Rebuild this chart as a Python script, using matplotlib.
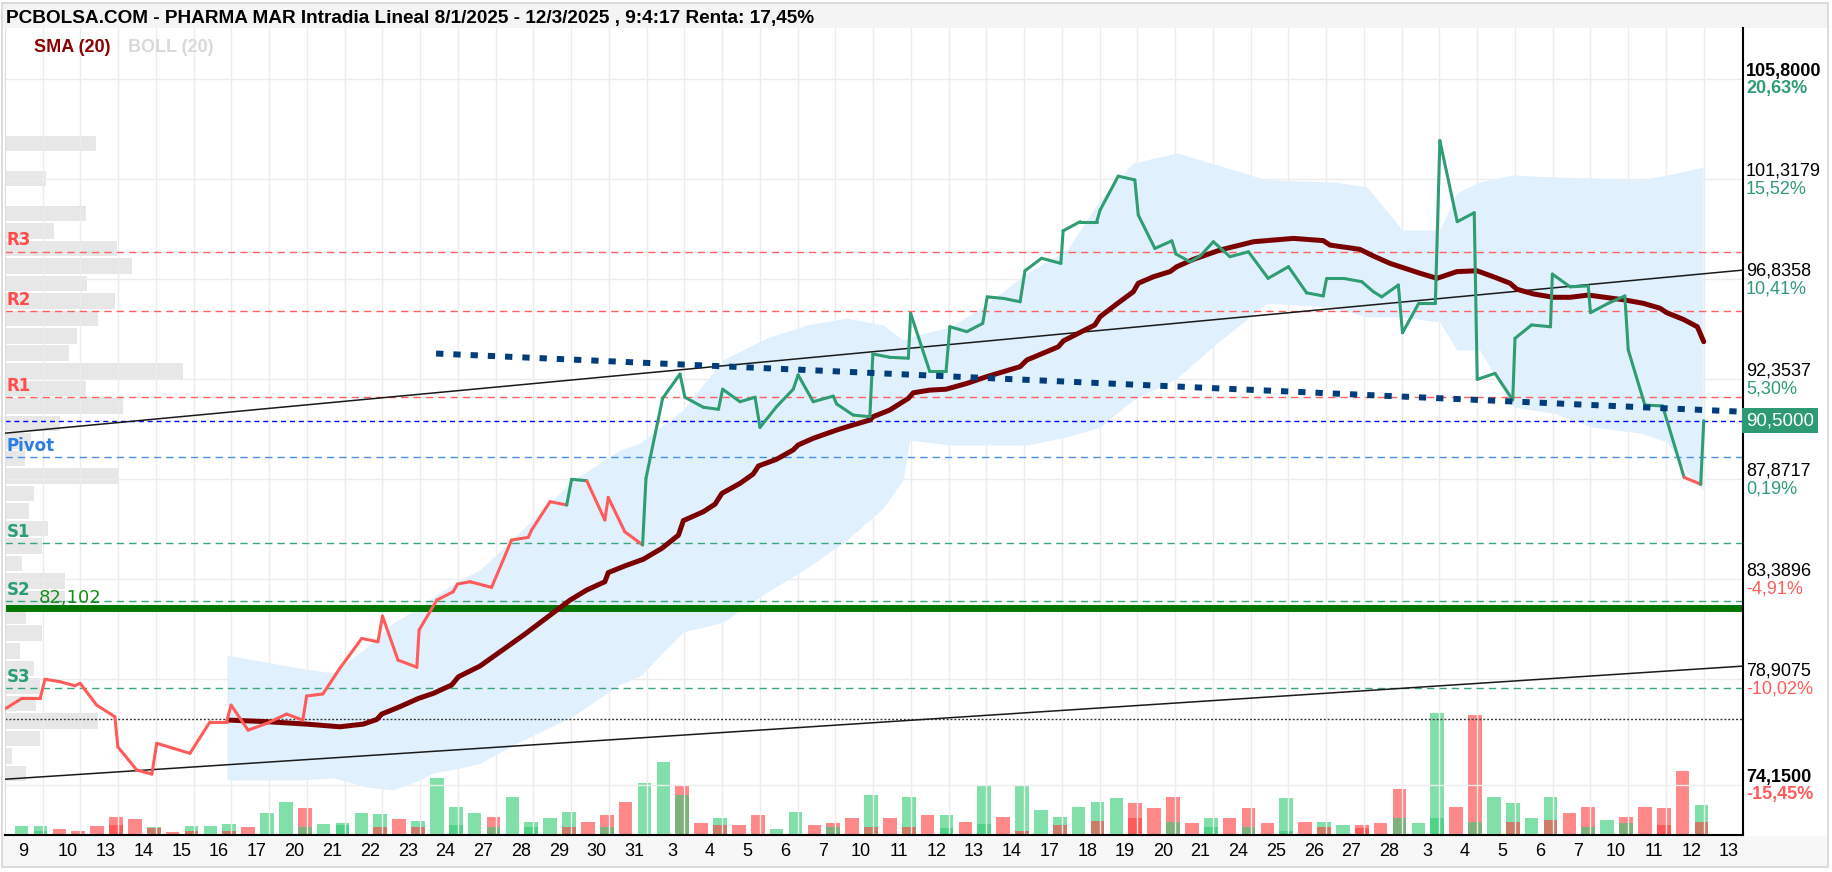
import numpy as np
import matplotlib.pyplot as plt
from matplotlib.collections import LineCollection
from matplotlib.patches import Rectangle

# Fuente tipo Arial para todo el gráfico
plt.rcParams['font.family'] = ['Liberation Sans', 'DejaVu Sans']

W, H = 1832, 872

# --- Datos ---
# Etiquetas de sesiones (enero, febrero, marzo)
dias = ['9', '10', '13', '14', '15', '16', '17', '20', '21', '22', '23', '24', '27', '28', '29', '30', '31',
        '3', '4', '5', '6', '7', '10', '11', '12', '13', '14', '17', '18', '19', '20', '21', '24', '25', '26', '27', '28',
        '3', '4', '5', '6', '7', '10', '11', '12', '13']

# Cotización intradía (x en sesiones desde el inicio)
precio_x = [0.03, 0.44, 0.93, 1.06, 1.46, 1.85, 1.99, 2.43, 2.91, 2.99,
            3.49, 3.89, 4.02, 4.45, 4.90, 5.43, 5.87, 5.99, 6.44, 6.93,
            7.46, 7.89, 7.99, 8.42, 8.87, 9.45, 9.88, 10.00, 10.41, 10.91,
            10.97, 11.44, 11.87, 11.99, 12.32, 12.89, 13.42, 13.86, 13.95, 14.44,
            14.88, 15.01, 15.41, 15.89, 15.98, 16.42, 16.89, 16.98, 17.42, 17.88,
            18.01, 18.50, 18.90, 19.01, 19.47, 19.87, 20.00, 20.44, 20.88, 21.01,
            21.41, 21.94, 22.03, 22.47, 22.91, 22.99, 23.44, 23.93, 23.99, 24.49,
            24.93, 25.03, 25.48, 25.90, 26.02, 26.45, 26.89, 27.02, 27.46, 27.97,
            28.03, 28.48, 28.92, 29.01, 29.49, 29.93, 30.02, 30.46, 30.91, 31.02,
            31.39, 31.66, 32.01, 32.45, 32.94, 33.46, 34.00, 34.48, 34.92, 35.01,
            35.45, 35.94, 36.25, 36.47, 36.91, 37.02, 37.45, 37.89, 38.01, 38.47,
            38.92, 39.00, 39.47, 39.94, 40.00, 40.44, 40.94, 40.99, 41.46, 41.94,
            42.00, 42.47, 42.91, 43.00, 43.44, 43.91, 44.48, 44.92, 45.00]
precio_y = [77.61, 78.05, 78.05, 78.91, 78.80, 78.62, 78.73, 77.75, 77.23, 75.88,
            74.84, 74.66, 76.04, 75.82, 75.59, 77.00, 77.00, 77.75, 76.63, 76.93,
            77.35, 77.08, 78.16, 78.25, 79.40, 80.74, 80.59, 81.74, 79.77, 79.45,
            81.12, 82.46, 82.83, 83.18, 83.28, 83.03, 85.15, 85.27, 85.60, 86.87,
            86.72, 87.87, 87.81, 86.05, 87.06, 85.52, 84.93, 87.92, 91.50, 92.59,
            91.55, 91.10, 91.01, 91.91, 91.35, 91.55, 90.20, 91.13, 91.91, 92.55,
            91.35, 91.60, 91.25, 90.75, 90.68, 93.49, 93.34, 93.30, 95.31, 92.74,
            92.74, 94.71, 94.49, 94.86, 96.05, 95.98, 95.83, 97.22, 97.78, 97.55,
            99.01, 99.42, 99.42, 99.94, 101.46, 101.29, 99.72, 98.22, 98.56, 97.97,
            97.62, 97.88, 98.52, 97.85, 98.07, 96.88, 97.40, 96.23, 96.09, 96.88,
            96.88, 96.73, 96.28, 96.05, 96.58, 94.44, 95.76, 95.76, 103.05, 99.42,
            99.82, 92.35, 92.62, 91.43, 94.19, 94.79, 94.71, 97.07, 96.50, 96.54,
            95.34, 95.76, 96.09, 93.67, 91.20, 91.16, 87.96, 87.65, 90.50]
precio_ref = 87.70
ultimo = 90.50

# Media móvil simple (20)
sma_x = [5.92, 6.93, 7.99, 8.87, 9.49, 9.85, 9.98, 10.46, 10.95, 11.35,
         11.83, 12.01, 12.58, 13.77, 14.97, 15.41, 15.89, 15.98, 16.42, 16.91,
         17.40, 17.84, 17.97, 18.50, 18.81, 18.99, 19.47, 19.82, 19.96, 20.44,
         20.88, 21.01, 21.41, 22.03, 22.47, 22.91, 23.00, 23.44, 23.93, 24.06,
         24.50, 24.93, 25.48, 26.00, 26.89, 27.07, 27.90, 28.04, 28.87, 29.01,
         29.45, 29.89, 30.02, 30.42, 30.86, 31.04, 31.48, 32.19, 33.07, 34.13,
         34.92, 35.10, 35.89, 36.25, 36.69, 37.48, 37.93, 38.46, 38.99, 39.43,
         39.87, 40.05, 40.49, 41.02, 41.46, 41.94, 42.91, 43.40, 43.84, 44.02,
         44.46, 44.83, 45.00]
sma_y = [77.08, 77.01, 76.90, 76.78, 76.90, 77.11, 77.35, 77.68, 78.05, 78.28,
         78.65, 79.02, 79.50, 80.93, 82.46, 82.91, 83.28, 83.69, 83.99, 84.29,
         84.78, 85.37, 86.02, 86.42, 86.76, 87.24, 87.69, 88.11, 88.47, 88.77,
         89.19, 89.41, 89.71, 90.08, 90.31, 90.53, 90.68, 90.98, 91.50, 91.75,
         91.87, 91.91, 92.17, 92.47, 92.92, 93.22, 93.81, 94.08, 94.79, 95.16,
         95.73, 96.28, 96.66, 96.95, 97.18, 97.40, 97.73, 98.15, 98.52, 98.67,
         98.57, 98.37, 98.18, 97.88, 97.55, 97.11, 96.88, 97.18, 97.22, 96.95,
         96.66, 96.39, 96.18, 96.03, 96.03, 96.13, 95.91, 95.76, 95.54, 95.34,
         95.04, 94.71, 94.04]

# Bandas de Bollinger (20)
boll_x = [5.88, 7.81, 8.69, 9.59, 10.28, 10.99, 11.34, 12.05, 12.58, 13.56,
          15.05, 16.29, 16.82, 17.96, 19.02, 20.19, 21.24, 22.30, 23.26, 23.79,
          23.97, 25.03, 25.91, 27.07, 28.13, 29.01, 29.88, 31.05, 32.11, 33.43,
          35.18, 36.08, 37.01, 38.01, 38.46, 39.07, 39.95, 41.01, 42.07, 43.31,
          44.03, 44.64, 44.98]
boll_sup = [79.99, 79.41, 79.19, 80.36, 81.43, 82.15, 82.60, 83.36, 83.81, 85.37,
            87.84, 89.18, 89.50, 90.98, 93.22, 94.21, 94.79, 95.10, 94.79, 94.11,
            94.25, 94.70, 95.59, 97.12, 98.15, 100.39, 102.05, 102.50, 101.96, 101.29,
            101.20, 100.98, 99.05, 99.05, 100.71, 101.20, 101.51, 101.42, 101.38, 101.29,
            101.51, 101.73, 101.87]
boll_inf = [74.40, 74.40, 74.49, 74.08, 73.95, 74.40, 74.71, 74.93, 75.15, 76.05,
            77.26, 78.69, 79.05, 81.03, 81.47, 82.82, 83.89, 85.15, 86.58, 87.84,
            89.63, 89.41, 89.41, 89.41, 89.77, 90.21, 91.42, 92.41, 93.98, 95.77,
            95.59, 95.15, 95.15, 94.92, 93.67, 93.67, 91.11, 90.84, 90.21, 89.95,
            89.54, 87.97, 87.39]

# Volumen (dos barras por sesión), sentido g/r y volumen superpuesto
volumen = [9, 9, 5.7, 4, 9, 17.7, 16, 8.3, 3.3, 9,
           9, 10.7, 7.7, 22.3, 33.3, 26.7, 10.7, 12.3, 22.3, 21,
           16, 14, 56.7, 27.7, 22.3, 18.3, 38, 13.3, 16.7, 23.3,
           13.3, 20, 33, 52, 73, 50, 11.7, 16.7, 10, 20,
           5.7, 23.3, 10, 11.7, 16.7, 40, 16.7, 38, 20, 20,
           13.3, 50, 18.3, 50, 25, 18.3, 28.3, 33.3, 37, 31.7,
           26.7, 38, 11.7, 16.7, 16.7, 26.7, 11.7, 37, 13.3, 13.3,
           10, 10, 11.7, 46, 11.7, 122, 28.3, 120, 38, 31.7,
           16.7, 38, 21.7, 28.3, 15, 18.3, 28.3, 26.7, 64, 30]
vol_sentido = ('ggrrrrrgrg' 'ggrggrgggg' 'rggggrgggg' 'rrrggrrgrr' 'ggrrrgrgrg'
               'rgrggggggr' 'rrrgrrrgrg' 'grrrggrrgg' 'ggrrgrrrrg')
vol_sup = [0, 4, 0, 0, 0, 10, 0, 7, 0, 4,
           0, 4, 0, 0, 0, 7.7, 0, 10, 0, 7.7,
           0, 8, 0, 10, 0, 8, 0, 8, 0, 8,
           0, 8, 0, 0, 0, 40, 0, 10, 0, 0,
           0, 0, 0, 8, 0, 8, 0, 8, 0, 7,
           0, 11, 0, 4, 0, 10, 0, 14, 0, 17,
           0, 13, 0, 8, 0, 8, 0, 4, 0, 8,
           0, 7, 0, 17, 0, 17, 0, 13, 0, 13,
           0, 15, 0, 8, 0, 12, 0, 10, 0, 13]
vol_sup_sentido = ('.g...r.r.r' '.r...g.g.r' '.r.g.g.g.r' '.g...g.r..' '...g.r.r.g'
                   '.g.r.r.r.r' '.g.g.g.g.r' '.r.g.g.g.r' '.r.g.g.r.r')

# Volumen por niveles de precio (perfil a la izquierda)
perfil_precio = [102.93, 101.36, 99.79, 99.01, 98.22, 97.44, 96.65, 95.87, 95.08, 94.30,
                 93.52, 92.73, 91.95, 91.16, 90.38, 89.59, 88.81, 88.02, 87.24, 86.46,
                 85.67, 84.89, 84.10, 83.32, 82.53, 81.75, 80.97, 80.18, 79.40, 78.61,
                 77.83, 77.04, 76.26, 75.48, 74.69]
perfil_vol = [91, 41, 81, 49, 112, 127, 82, 110, 93, 72,
              64, 178, 81, 118, 55, 26, 20, 113, 29, 24,
              43, 37, 17, 60, 60, 21, 37, 15, 29, 35,
              31, 93, 35, 7, 21]

# Pivotes, soporte y líneas de tendencia
piv_nombres = ['R3', 'R2', 'R1', 'Pivot', 'S1', 'S2', 'S3']
piv_valores = [98.08, 95.43, 91.57, 88.87, 85.01, 82.41, 78.50]
soporte = 82.102
nivel_punteado = 77.11
tend_sup_x, tend_sup_y = [0, 46.04], [89.94, 97.25]
tend_inf_x, tend_inf_y = [0, 46.04], [74.43, 79.50]
tend_azul_x, tend_azul_y = [11.42, 46.04], [93.51, 90.90]

# Eje derecho: precios y rentabilidad
eje_valores = [105.8, 101.3179, 96.8358, 92.3537, 87.8717, 83.3896, 78.9075, 74.15]
eje_pct = ['20,63%', '15,52%', '10,41%', '5,30%', '0,19%', '-4,91%', '-10,02%', '-15,45%']

titulo = 'PCBOLSA.COM - PHARMA MAR Intradia Lineal 8/1/2025 - 12/3/2025 , 9:4:17 Renta: 17,45%'

VERDE = '#2f9c72'
ROJO = '#ff5b5b'


def fondo(fig):
    # Bandas grises de título y eje x, y marco exterior
    fig.patches.append(Rectangle((2 / W, 1 - 28 / H), 1826 / W, 25 / H, transform=fig.transFigure,
                                 fc='#f4f4f4', ec='none', zorder=0))
    fig.patches.append(Rectangle((2 / W, 1 - 867 / H), 1826 / W, 31 / H, transform=fig.transFigure,
                                 fc='#f7f7f7', ec='none', zorder=0))
    fig.patches.append(Rectangle((2 / W, 1 - 867 / H), 1826 / W, 864 / H, transform=fig.transFigure,
                                 fill=False, ec='#d6d6d6', lw=1.2, zorder=0))


def main():
    fig = plt.figure(figsize=(W / 100, H / 100), dpi=100)
    fondo(fig)

    ax = fig.add_axes([5 / W, 1 - 835 / H, 1738 / W, 807 / H])
    ax.set_xlim(0, 46.04)
    ax.set_ylim(71.93, 108.10)
    ax.patch.set_visible(False)
    ax.set_zorder(3)

    # Perfil de volumen por precio
    axp = ax.twiny()
    axp.set_xlim(0, max(perfil_vol) / 0.1024)
    axp.barh(perfil_precio, perfil_vol, height=0.70, color='#d4d4d4', alpha=0.55, lw=0)
    axp.axis('off')
    axp.set_zorder(1)

    # Volumen
    axv = ax.twinx()
    axv.set_ylim(0, max(volumen) / 0.151)
    vx = np.arange(len(volumen)) * 0.5 + 0.44
    col = {'g': '#2ecc71', 'r': '#ff3b3b'}
    axv.bar(vx, volumen, width=0.36, color=[col[c] for c in vol_sentido], alpha=0.6, lw=0)
    sup = [(x, h, col[c]) for x, h, c in zip(vx, vol_sup, vol_sup_sentido) if c != '.']
    axv.bar([s[0] for s in sup], [s[1] for s in sup], width=0.36,
            color=[s[2] for s in sup], alpha=0.6, lw=0)
    axv.axis('off')
    axv.set_zorder(2)

    # Rejilla
    ax.set_xticks(np.arange(1, 46), minor=True)
    pos = np.arange(len(dias)) + 0.67
    pos[0] = 0.48
    ax.set_xticks(pos, labels=dias, fontsize=13)
    ax.set_yticks(eje_valores, labels=[])
    ax.tick_params(axis='both', which='both', length=0)
    ax.tick_params(axis='x', pad=5.5)
    ax.grid(axis='x', which='minor', color='#ececec', lw=1)
    ax.grid(axis='y', which='major', color='#ececec', lw=1)
    ax.set_axisbelow(True)
    ax.spines['top'].set_visible(False)
    ax.spines['left'].set_color('#dddddd')
    ax.spines['right'].set_color('black')
    ax.spines['right'].set_linewidth(1.5)
    ax.spines['bottom'].set_color('black')
    ax.spines['bottom'].set_linewidth(1.5)

    # Bandas de Bollinger
    ax.fill_between(boll_x, boll_inf, boll_sup, color='#e0f0fc', lw=0, zorder=1)

    # Pivotes
    piv_col = {'R': ('#ff6060', '#ff4d4d'), 'P': ('#4a90e2', '#2a7de1'), 'S': ('#3aa67f', '#2a9d74')}
    for nombre, v in zip(piv_nombres, piv_valores):
        c_lin, c_txt = piv_col[nombre[0]]
        ax.axhline(v, color=c_lin, lw=1, ls=(0, (5.3, 3.6)), zorder=2)
        ax.annotate(nombre, xy=(0, v), xytext=(1, 1.5), textcoords='offset points', ha='left', va='bottom',
                    fontsize=12, fontweight='bold', family='DejaVu Sans', color=c_txt, zorder=8)
    ax.axhline(ultimo, color='#0000ff', lw=1, ls=(0, (3.6, 2.8)), zorder=2)
    ax.axhline(nivel_punteado, color='#333333', lw=1, ls=(0, (1.4, 1.4)), zorder=2)
    ax.axhline(soporte, color='#007500', lw=5, zorder=2.5)
    # el valor del soporte va justo a la derecha de la etiqueta S2
    ax.annotate(f'{soporte:.3f}'.replace('.', ','), xy=(0, soporte), xytext=(24, 3.5),
                textcoords='offset points', ha='left', va='baseline', fontsize=13,
                family='DejaVu Sans', color='#1b8c1b', zorder=8)

    # Líneas de tendencia
    ax.plot(tend_sup_x, tend_sup_y, color='#1a1a1a', lw=1.1, zorder=3)
    ax.plot(tend_inf_x, tend_inf_y, color='#1a1a1a', lw=1.1, zorder=3)

    # SMA y cotización
    ax.plot(sma_x, sma_y, color='#7a0000', lw=3.6, zorder=4, solid_capstyle='round', solid_joinstyle='round')
    pts = np.column_stack([precio_x, precio_y])
    segs = np.stack([pts[:-1], pts[1:]], axis=1)
    colores = [VERDE if y >= precio_ref else ROJO for y in precio_y[1:]]
    ax.add_collection(LineCollection(segs, colors=colores, linewidths=2.2, capstyle='round',
                                     joinstyle='round', zorder=5))
    ax.plot(tend_azul_x, tend_azul_y, color='#003d7a', lw=4.3, ls=(0, (1.22, 1.67)), zorder=6)

    # Eje derecho con precio y rentabilidad
    for v, pct in zip(eje_valores, eje_pct):
        extremo = v in (max(eje_valores), min(eje_valores))
        peso = 'bold' if extremo else 'normal'
        ax.annotate(f'{v:.4f}'.replace('.', ','), xy=(1, v), xycoords=('axes fraction', 'data'),
                    xytext=(2.2, 5.8), textcoords='offset points', ha='left', va='center',
                    fontsize=13, fontweight=peso, color='black', annotation_clip=False)
        ax.annotate(pct, xy=(1, v), xycoords=('axes fraction', 'data'),
                    xytext=(2.2, -6.8), textcoords='offset points', ha='left', va='center',
                    fontsize=13, fontweight=peso, color=ROJO if pct.startswith('-') else VERDE,
                    annotation_clip=False)
    ax.annotate(f'{ultimo:.4f}'.replace('.', ','), xy=(1, ultimo), xycoords=('axes fraction', 'data'),
                xytext=(2.2, 0), textcoords='offset points', ha='left', va='center',
                fontsize=13.5, color='white', annotation_clip=False, zorder=10,
                bbox=dict(boxstyle='square,pad=0.2', fc='#2d9a73', ec='none'))

    # Título y leyenda
    fig.text(6 / W, 1 - 18 / H, titulo, fontsize=13.65, fontweight='bold', va='center', ha='left')
    fig.text(34 / W, 1 - 47 / H, 'SMA (20)', fontsize=13, fontweight='bold', color='#8b0000',
             va='center', ha='left')
    fig.text(128 / W, 1 - 47 / H, 'BOLL (20)', fontsize=13, fontweight='bold', color='#d9d9d9',
             va='center', ha='left')

    fig.savefig('out.png', dpi=100, facecolor='white')


if __name__ == '__main__':
    main()
